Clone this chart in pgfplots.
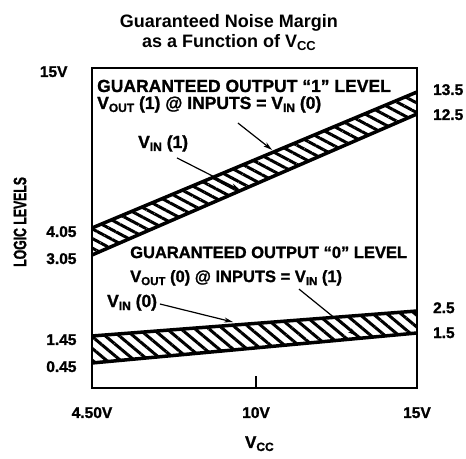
\documentclass[border=0pt]{standalone}
\usepackage{fontspec}
\setmainfont{Liberation Sans}
\newfontfamily\heavy{Liberation Sans}[Ligatures=TeX,BoldFeatures={FakeBold=1.2}]
\newfontfamily\condfont{Liberation Sans}[FakeStretch=0.68,BoldFeatures={FakeBold=1.2,FakeStretch=0.68}]
\usepackage{pgfplots}
\pgfplotsset{compat=1.18}
\usetikzlibrary{patterns.meta,arrows.meta}

% schematic (non-linear) voltage scale of the original drawing
\pgfplotsset{
  schematic y/.style={
    y coord trafo/.code={%
      \begingroup
      \pgfkeys{/pgf/fpu=true}%
      \pgfmathparse{ifthenelse(##1<0.45, ##1*25/0.45,
        ifthenelse(##1<1.45, 25+(##1-0.45)*27,
        ifthenelse(##1<1.5, 52+(##1-1.45)*60,
        ifthenelse(##1<2.5, 55+(##1-1.5)*22,
        ifthenelse(##1<3.05, 77+(##1-2.5)*56/0.55,
        ifthenelse(##1<4.05, 133+(##1-3.05)*27,
        ifthenelse(##1<12.5, 160+(##1-4.05)*114/8.45,
        ifthenelse(##1<13.5, 274+(##1-12.5)*22,
        296+(##1-13.5)*16))))))))}%
      \pgfmathfloattofixed{\pgfmathresult}%
      \xdef\ytrres{\pgfmathresult}%
      \endgroup
      \let\pgfmathresult\ytrres
    },
  },
}

\newcommand{\sub}[2]{\raisebox{-3pt}{\fontsize{#1}{#1}\selectfont #2}}
\newcommand{\lbl}{\heavy\fontsize{17.5}{20}\selectfont\bfseries}
\newcommand{\lbls}{\heavy\fontsize{16.5}{19}\selectfont\bfseries}
\newcommand{\tck}{\heavy\fontsize{15.5}{18}\selectfont\bfseries}

\begin{document}
\begin{tikzpicture}
\begin{axis}[
  schematic y,
  scale only axis,
  width=325pt, height=320pt,
  xmin=4.5, xmax=15, ymin=0, ymax=15,
  clip=false,
  axis line style={line width=2.4pt},
  xtick={4.5,9.8,15},
  xticklabels={4.50V,10V,15V},
  xtick pos=bottom,
  xtick align=inside,
  major tick length=12pt,
  xtick style={line width=1.4pt, black},
  xticklabel style={font=\tck, anchor=base, yshift=-30pt},
  ytick={0.45,1.45,3.05,4.05,15},
  yticklabels={0.45,1.45,3.05,4.05,15V\kern9pt},
  ytick style={draw=none},
  yticklabel style={font=\tck, anchor=base east, xshift=-12pt, yshift=-9pt},
]
% bounding box of the whole figure
\path (rel axis cs:-0.28308,-0.221875) rectangle (rel axis cs:1.15077,1.2125);

% hatched bands
\addplot[draw=none, pattern={Lines[angle=-28,distance=8.5pt,line width=3pt]}]
  coordinates {(4.5,4.05) (15,13.5) (15,12.5) (4.5,3.05)} -- cycle;
\addplot[draw=none, pattern={Lines[angle=-40,distance=9pt,line width=3pt]}]
  coordinates {(4.5,1.45) (15,2.5) (15,1.5) (4.5,0.45)} -- cycle;

% level lines
\addplot[black, line width=3.5pt] coordinates {(4.5,4.05) (15,13.5)}; % VOUT(1)
\addplot[black, line width=3.5pt] coordinates {(4.5,3.05) (15,12.5)}; % VIN(1)
\addplot[black, line width=3.5pt] coordinates {(4.5,1.45) (15,2.5)};  % VIN(0)
\addplot[black, line width=3.5pt] coordinates {(4.5,0.45) (15,1.5)};  % VOUT(0)

% right-hand values
\node[anchor=base west, font=\tck, inner sep=0pt] at (rel axis cs:1.049,0.9156) {13.5};
\node[anchor=base west, font=\tck, inner sep=0pt] at (rel axis cs:1.049,0.8375) {12.5};
\node[anchor=base west, font=\tck, inner sep=0pt] at (rel axis cs:1.049,0.234) {2.5};
\node[anchor=base west, font=\tck, inner sep=0pt] at (rel axis cs:1.049,0.156) {1.5};

% annotations
\node[anchor=base west, font=\lbl, inner sep=0pt] at (rel axis cs:0.0154,0.925)
  {GUARANTEED OUTPUT “1” LEVEL};
\node[anchor=base west, font=\lbl, inner sep=0pt] at (rel axis cs:0.0154,0.872)
  {V\sub{12}{OUT} (1) @ INPUTS = V\sub{12}{IN} (0)};
\node[anchor=base west, font=\lbl, inner sep=0pt] at (rel axis cs:0.1415,0.75)
  {V\sub{12}{IN} (1)};
\node[anchor=base west, font=\lbls, inner sep=0pt] at (rel axis cs:0.117,0.406)
  {GUARANTEED OUTPUT “0” LEVEL};
\node[anchor=base west, font=\lbls, inner sep=0pt] at (rel axis cs:0.117,0.331)
  {V\sub{11.5}{OUT} (0) @ INPUTS = V\sub{11.5}{IN} (1)};
\node[anchor=base west, font=\lbl, inner sep=0pt] at (rel axis cs:0.046,0.253)
  {V\sub{12}{IN} (0)};

\draw[line width=1.2pt, -{Stealth[length=9pt,width=5pt]}]
  (rel axis cs:0.449,0.828) -- (rel axis cs:0.554,0.744);
\draw[line width=1.2pt, -{Stealth[length=9pt,width=5pt]}]
  (rel axis cs:0.2615,0.719) -- (rel axis cs:0.455,0.619);
\draw[line width=1.2pt, -{Stealth[length=9pt,width=5pt]}]
  (rel axis cs:0.209,0.2625) -- (rel axis cs:0.434,0.206);
\draw[line width=1.2pt, -{Stealth[length=9pt,width=5pt]}]
  (rel axis cs:0.637,0.309) -- (rel axis cs:0.815,0.1625);

% titles and axis labels
\node[anchor=base, font=\fontsize{18}{21}\selectfont\bfseries] at (rel axis cs:0.4215,1.125)
  {Guaranteed Noise Margin};
\node[anchor=base, font=\fontsize{18}{21}\selectfont\bfseries] at (rel axis cs:0.4215,1.0625)
  {as a Function of V\sub{13}{CC}};
\node[anchor=base, font=\heavy\fontsize{17}{20}\selectfont\bfseries] at (rel axis cs:0.515,-0.1875)
  {V\sub{12}{CC}};
\node[rotate=90, font=\condfont\fontsize{18}{21}\selectfont\bfseries] at (rel axis cs:-0.2215,0.519)
  {LOGIC LEVELS};
\end{axis}
\end{tikzpicture}
\end{document}
